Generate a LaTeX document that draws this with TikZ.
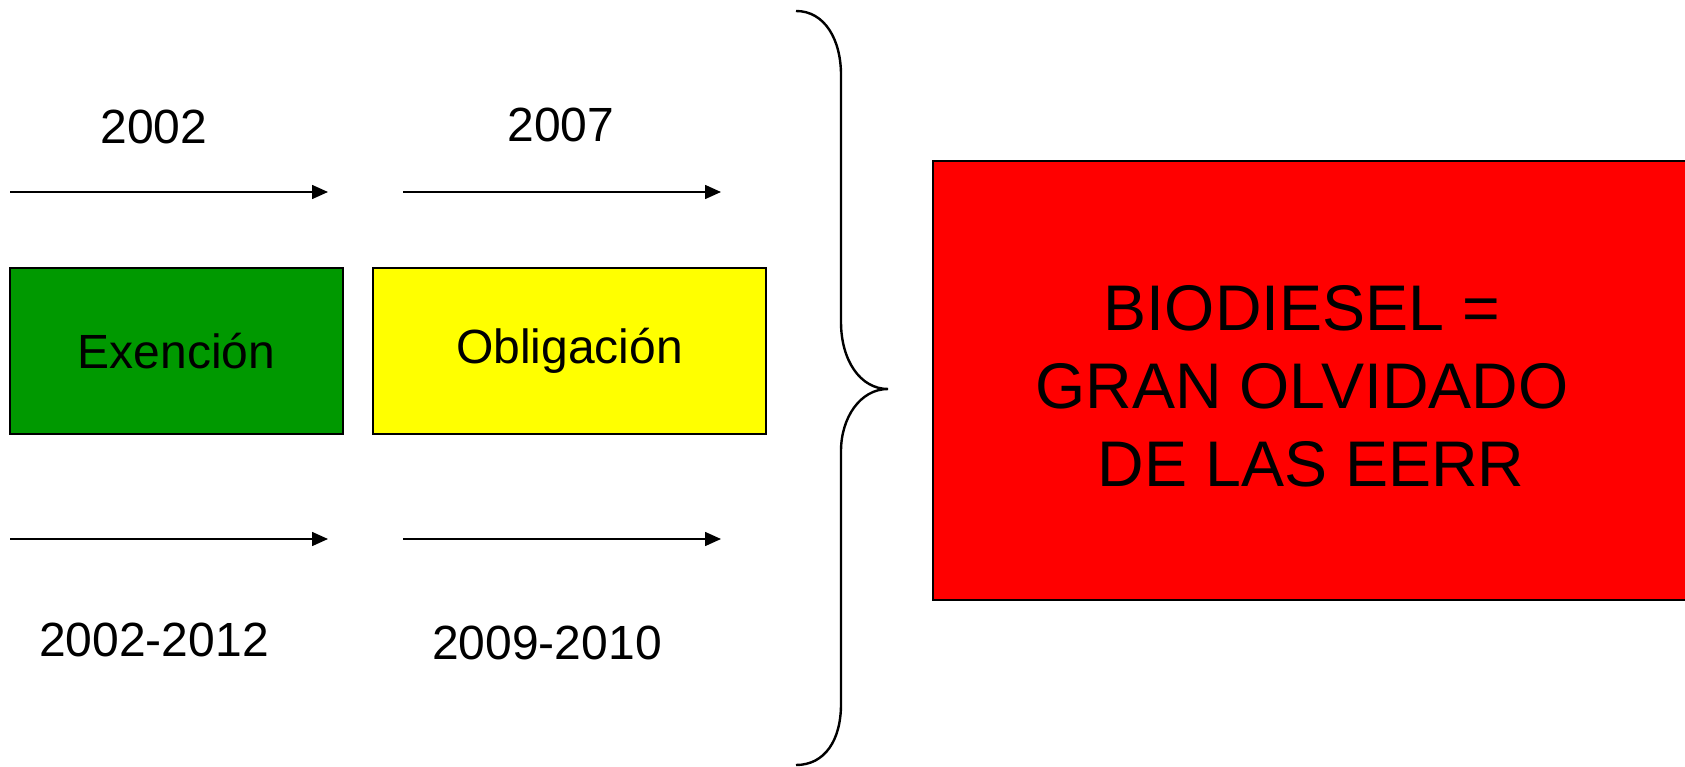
\documentclass[tikz,border=0pt]{standalone}
\usepackage{fontspec}
\setmainfont{Liberation Sans}
\usetikzlibrary{arrows.meta}
\definecolor{grn}{HTML}{009900}
\definecolor{yel}{HTML}{FFFF00}
\definecolor{rd}{HTML}{FF0000}
\begin{document}
\begin{tikzpicture}[x=1pt,y=-1pt,
  box/.style={draw=black,line width=1.6pt,inner sep=0pt,minimum height=166pt,font=\fontsize{48}{56}\selectfont},
  yr/.style={inner sep=0pt,font=\fontsize{48}{56}\selectfont},
  arr/.style={line width=1.6pt,-{Triangle[length=16pt,width=14pt]}},
  brace/.style={line width=2.4pt}]
\useasboundingbox (0,0) rectangle (1685,767);
% boxes
\node[box,fill=grn,minimum width=333pt] (exen) at (176.5,351) {Exención};
\node[box,fill=yel,minimum width=393pt] (oblig) at (569.5,351) {Obligación};
\node[draw=black,line width=1.6pt,fill=rd,minimum width=770pt,minimum height=439pt,inner sep=0pt] (red) at (1318,380.5) {};
\node[inner sep=0pt,align=center,font=\fontsize{64.5}{78}\selectfont] (redtxt) at (1302,386) {BIODIESEL =\\GRAN OLVIDADO\\\hspace*{18pt}DE LAS EERR};
% arrows
\coordinate (a1s) at (10,192); \coordinate (a1e) at (328,192);
\coordinate (a2s) at (403,192); \coordinate (a2e) at (721,192);
\coordinate (b1s) at (10,539); \coordinate (b1e) at (328,539);
\coordinate (b2s) at (403,539); \coordinate (b2e) at (721,539);
\draw[arr] (a1s) -- (a1e);
\draw[arr] (a2s) -- (a2e);
\draw[arr] (b1s) -- (b1e);
\draw[arr] (b2s) -- (b2e);
% labels
\node[yr] (y1) at (154,127) {2002};
\node[yr] (y2) at (561,125) {2007};
\node[yr] (y3) at (154,640) {2002-2012};
\node[yr] (y4) at (547,643) {2009-2010};
% brace
\coordinate (bt) at (796,11);
\coordinate (bc) at (888,389);
\coordinate (bb) at (796,765);
\draw[brace] (bt) .. controls (825,11) and (841,40) .. (841,75) -- (841,322)
  .. controls (841,360) and (860,389) .. (bc)
  .. controls (860,389) and (841,418) .. (841,451) -- (841,704)
  .. controls (841,740) and (825,765) .. (bb);
\end{tikzpicture}
\end{document}
